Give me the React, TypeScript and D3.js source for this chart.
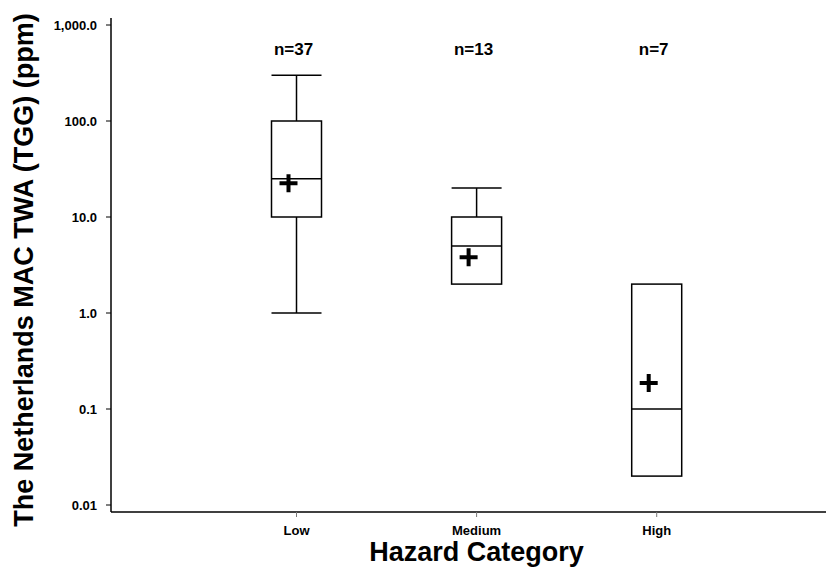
import React, { useEffect, useRef } from 'react';
import * as d3 from 'd3';

// data
const categories = ['Low', 'Medium', 'High'];
const counts = [37, 13, 7];
const whiskerLow = [1, 2, 0.02];
const q1 = [10, 2, 0.02];
const medians = [25, 5, 0.1];
const q3 = [100, 10, 2];
const whiskerHigh = [300, 20, 2];
const means = [22.5, 3.8, 0.187];
const yTicks = [0.01, 0.1, 1, 10, 100, 1000];
const yTickLabels = ['0.01', '0.1', '1.0', '10.0', '100.0', '1,000.0'];

const FONT = '"Liberation Sans", Arial, sans-serif';

const App = () => {
  const svgRef = useRef<SVGSVGElement>(null);
  const width = 829;
  const height = 579;

  useEffect(() => {
    const svg = d3.select(svgRef.current);
    svg.selectAll('*').remove();

    const left = 111;
    const right = 826;
    const axisY = 512;

    const x = d3.scaleLinear().domain([-0.03, 3.94]).range([left, right]);
    const y = d3.scaleLog().domain([0.01, 1000]).range([505, 25]);
    const boxW = 50;

    // y axis
    svg.append('line')
      .attr('x1', left).attr('x2', left)
      .attr('y1', axisY).attr('y2', 18)
      .attr('stroke', '#000').attr('stroke-width', 1.5);

    const yt = svg.selectAll('.ytick')
      .data(yTicks)
      .enter().append('g')
      .attr('transform', d => `translate(0,${y(d)})`);
    yt.append('line')
      .attr('x1', left - 5).attr('x2', left)
      .attr('stroke', '#000').attr('stroke-width', 1);
    yt.append('text')
      .text((d, i) => yTickLabels[i])
      .attr('x', left - 14)
      .attr('dy', '0.35em')
      .attr('text-anchor', 'end')
      .style('font-family', FONT)
      .style('font-weight', 'bold')
      .style('font-size', '13px');

    // x axis
    svg.append('line')
      .attr('x1', left).attr('x2', right)
      .attr('y1', axisY).attr('y2', axisY)
      .attr('stroke', '#000').attr('stroke-width', 1.5);

    const xt = svg.selectAll('.xtick')
      .data(categories)
      .enter().append('g')
      .attr('transform', (d, i) => `translate(${x(i + 1)},0)`);
    xt.append('line')
      .attr('y1', axisY).attr('y2', axisY + 5)
      .attr('stroke', '#777').attr('stroke-width', 1);
    xt.append('text')
      .text(d => d)
      .attr('y', 535)
      .attr('text-anchor', 'middle')
      .style('font-family', FONT)
      .style('font-weight', 'bold')
      .style('font-size', '13px');

    // axis titles
    svg.append('text')
      .text('Hazard Category')
      .attr('x', x(2))
      .attr('y', 561)
      .attr('text-anchor', 'middle')
      .style('font-family', FONT)
      .style('font-weight', 'bold')
      .style('font-size', '27px');

    svg.append('text')
      .text('The Netherlands MAC TWA (TGG) (ppm)')
      .attr('transform', 'translate(33,270) rotate(-90)')
      .attr('text-anchor', 'middle')
      .style('font-family', FONT)
      .style('font-weight', 'bold')
      .style('font-size', '27px');

    // boxes
    const groups = svg.selectAll('.box')
      .data(categories)
      .enter().append('g')
      .attr('class', 'box');

    groups.each(function (d, i) {
      const g = d3.select(this);
      const cx = x(i + 1);

      // whiskers
      if (whiskerHigh[i] > q3[i]) {
        g.append('line')
          .attr('x1', cx).attr('x2', cx)
          .attr('y1', y(q3[i])).attr('y2', y(whiskerHigh[i]))
          .attr('stroke', '#000').attr('stroke-width', 1.5);
        g.append('line')
          .attr('x1', cx - boxW / 2).attr('x2', cx + boxW / 2)
          .attr('y1', y(whiskerHigh[i])).attr('y2', y(whiskerHigh[i]))
          .attr('stroke', '#000').attr('stroke-width', 1.5);
      }
      if (whiskerLow[i] < q1[i]) {
        g.append('line')
          .attr('x1', cx).attr('x2', cx)
          .attr('y1', y(q1[i])).attr('y2', y(whiskerLow[i]))
          .attr('stroke', '#000').attr('stroke-width', 1.5);
        g.append('line')
          .attr('x1', cx - boxW / 2).attr('x2', cx + boxW / 2)
          .attr('y1', y(whiskerLow[i])).attr('y2', y(whiskerLow[i]))
          .attr('stroke', '#000').attr('stroke-width', 1.5);
      }

      g.append('rect')
        .attr('x', cx - boxW / 2)
        .attr('y', y(q3[i]))
        .attr('width', boxW)
        .attr('height', y(q1[i]) - y(q3[i]))
        .attr('fill', '#fff')
        .attr('stroke', '#000')
        .attr('stroke-width', 1.5);

      g.append('line')
        .attr('x1', cx - boxW / 2).attr('x2', cx + boxW / 2)
        .attr('y1', y(medians[i])).attr('y2', y(medians[i]))
        .attr('stroke', '#000').attr('stroke-width', 1.5);

      // mean marker (drawn slightly left of centre, as in the original)
      const mx = cx - 8;
      const my = y(means[i]);
      g.append('path')
        .attr('d', `M${mx - 9},${my}H${mx + 9}M${mx},${my - 9}V${my + 9}`)
        .attr('stroke', '#000')
        .attr('stroke-width', 4);

      g.append('text')
        .text(`n=${counts[i]}`)
        .attr('x', cx - 3)
        .attr('y', 55)
        .attr('text-anchor', 'middle')
        .style('font-family', FONT)
        .style('font-weight', 'bold')
        .style('font-size', '17px');
    });
  }, []);

  return (
    <svg
      ref={svgRef}
      width={width}
      height={height}
      style={{ position: 'absolute', left: 0, top: 0, background: '#fff' }}
    />
  );
};

export default App;
